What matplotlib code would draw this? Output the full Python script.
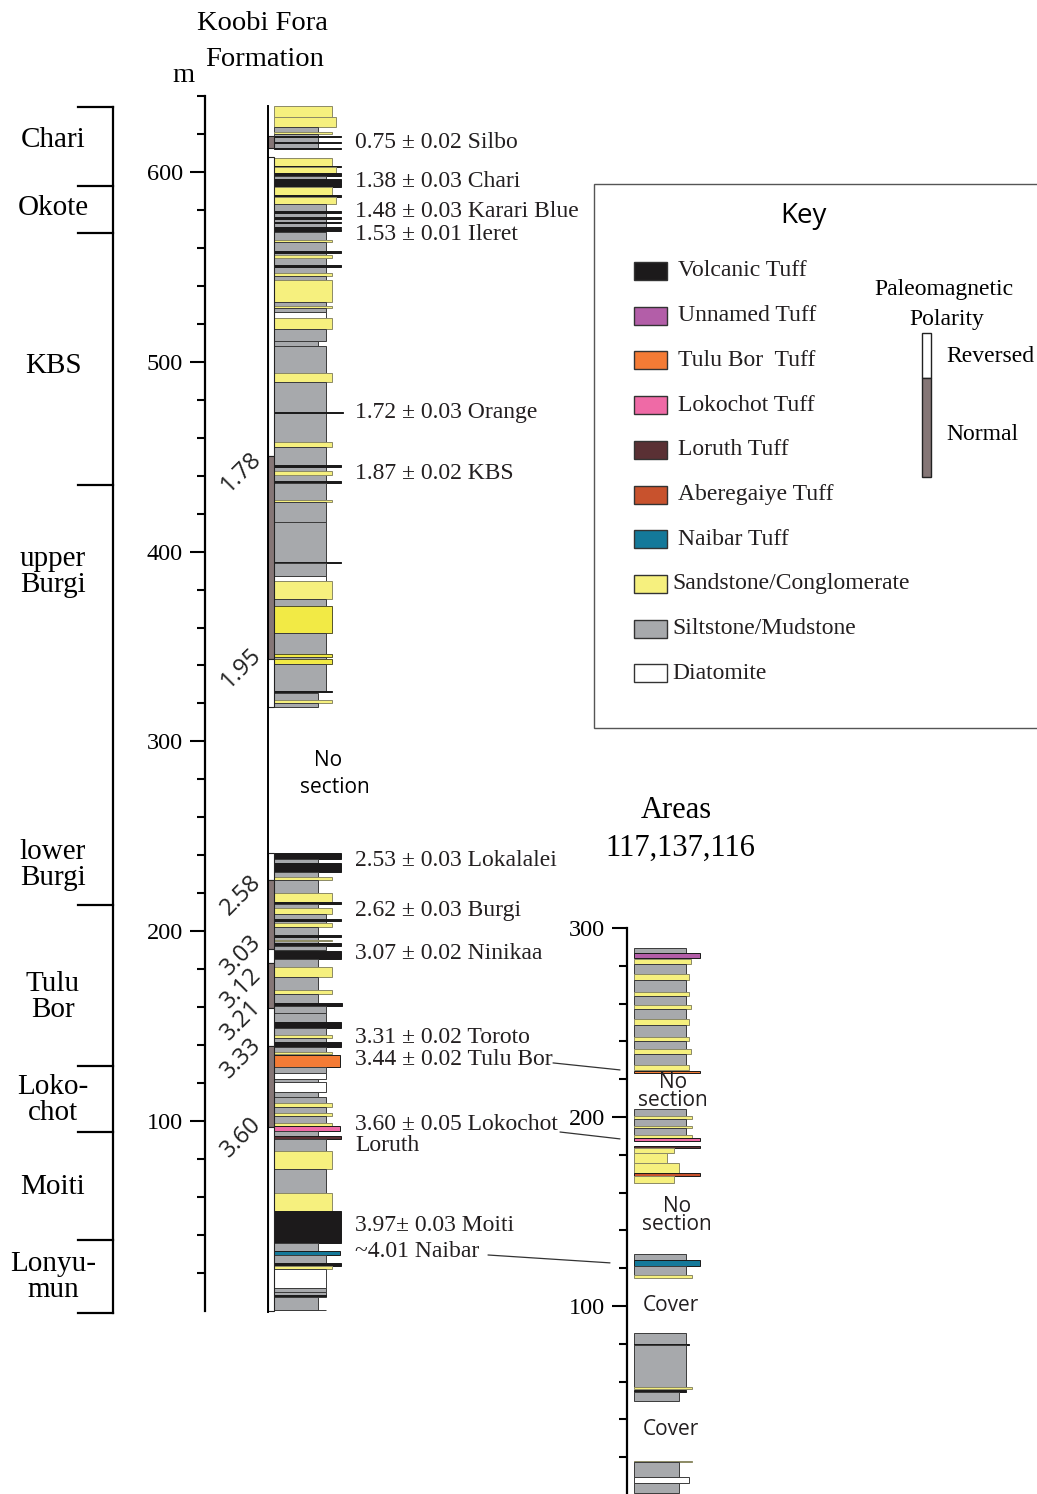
import matplotlib
matplotlib.use("Agg")
import matplotlib.pyplot as plt
from matplotlib.patches import Rectangle, ConnectionPatch
from matplotlib.ticker import FixedLocator

plt.rcParams['font.family'] = ['Liberation Serif', 'DejaVu Serif']
SANS = ['Open Sans', 'DejaVu Sans']

# ---------------------------------------------------------------- data
# Koobi Fora Formation composite section: (top m, base m, lithology, bed width)
main_beds = [
    (634.8, 628.8, 'S', 58), (628.8, 623.5, 'S', 62), (623.5, 621.2, 'M', 44),
    (621.2, 619.8, 'S', 58), (619.8, 612.5, 'M', 44),
    (619.0, 618.2, 'T', 67), (616.0, 615.2, 'T', 67), (612.9, 612.1, 'T', 67),
    (607.5, 603.1, 'S', 58), (603.3, 602.5, 'T', 67), (602.6, 599.6, 'S', 62),
    (599.6, 597.9, 'T', 67), (597.9, 596.1, 'M', 52), (596.1, 592.2, 'T', 67),
    (592.2, 588.0, 'S', 58), (588.0, 586.6, 'T', 67), (586.6, 583.1, 'S', 62),
    (583.1, 568.5, 'M', 52),
    (579.6, 578.5, 'T', 67), (576.1, 575.0, 'T', 67), (573.8, 572.9, 'T', 67),
    (571.2, 570.3, 'T', 67), (569.8, 568.8, 'T', 67),
    (568.5, 564.1, 'M', 52), (564.1, 563.1, 'S', 58), (563.1, 546.6, 'M', 52),
    (558.3, 557.1, 'T', 67), (556.2, 554.5, 'S', 58), (551.0, 549.8, 'T', 67),
    (546.6, 545.3, 'S', 58), (545.3, 543.1, 'M', 52), (543.1, 531.3, 'S', 58),
    (531.3, 529.5, 'M', 52), (529.5, 528.3, 'S', 58), (528.3, 526.0, 'M', 52),
    (526.0, 522.9, 'D', 52), (522.9, 517.1, 'S', 58), (517.1, 511.1, 'M', 52),
    (511.1, 508.3, 'M', 44), (508.3, 494.2, 'M', 52), (494.2, 489.2, 'S', 58),
    (489.2, 457.9, 'M', 52), (473.4, 472.8, 'T', 69),
    (457.9, 454.9, 'S', 58), (454.9, 436.0, 'M', 52),
    (445.6, 444.4, 'T', 67), (442.4, 440.2, 'S', 58), (437.2, 436.0, 'T', 67),
    (436.0, 427.2, 'M', 52), (427.2, 426.0, 'S', 58), (426.0, 415.7, 'M', 52),
    (415.7, 394.1, 'M', 52), (394.5, 393.9, 'T', 67), (394.1, 387.1, 'M', 52),
    (387.1, 384.6, 'D', 52), (384.6, 374.8, 'S', 58), (374.8, 371.5, 'M', 52),
    (371.5, 356.9, 'S2', 58), (356.9, 345.9, 'M', 52), (345.9, 344.6, 'S2', 58),
    (344.6, 343.5, 'M', 52), (343.5, 340.6, 'S2', 58), (340.6, 326.7, 'M', 52),
    (326.5, 326.0, 'T', 58), (325.6, 321.8, 'M', 44), (321.8, 320.0, 'S', 58),
    (320.0, 317.9, 'M', 44),
    # lower part
    (241.0, 237.8, 'T', 67), (237.8, 236.1, 'M', 44), (236.1, 231.3, 'T', 67),
    (231.3, 228.4, 'M', 44), (228.4, 226.9, 'S', 58), (226.9, 219.9, 'M', 44),
    (219.9, 215.5, 'S', 58), (215.5, 214.1, 'T', 67), (214.1, 212.0, 'M', 44),
    (212.0, 209.0, 'S', 58), (209.0, 204.1, 'M', 52), (206.2, 205.3, 'T', 67),
    (204.1, 202.0, 'S', 58), (202.0, 190.0, 'M', 44),
    (197.9, 196.7, 'T', 67), (195.5, 194.9, 'S', 58), (193.6, 192.1, 'T', 67),
    (192.0, 190.0, 'M', 52),
    (189.5, 185.1, 'T', 67), (185.1, 181.2, 'M', 44), (181.2, 176.0, 'S', 58),
    (176.0, 169.0, 'M', 44), (169.0, 166.9, 'S', 58), (166.9, 162.0, 'M', 44),
    (162.0, 160.5, 'T', 68), (160.5, 157.0, 'M', 52), (157.0, 152.3, 'M', 52),
    (152.3, 148.8, 'T', 67), (148.8, 145.3, 'M', 52), (145.3, 143.8, 'S', 58),
    (143.8, 141.4, 'M', 52), (141.4, 139.1, 'T', 67), (139.1, 136.5, 'M', 52),
    (136.5, 135.1, 'S', 58), (134.7, 128.6, 'TB', 66), (128.6, 125.4, 'M', 52),
    (125.4, 121.9, 'D', 52), (121.9, 120.7, 'M', 44), (120.7, 115.4, 'D', 52),
    (115.4, 112.8, 'M', 44), (112.8, 109.3, 'M', 52), (109.3, 107.5, 'S', 58),
    (107.5, 104.3, 'M', 52), (104.3, 102.6, 'S', 58), (102.6, 99.1, 'M', 52),
    (99.1, 97.3, 'S', 58), (97.3, 94.8, 'LK', 66), (94.8, 92.2, 'M', 44),
    (92.2, 90.6, 'LR', 67), (90.6, 84.1, 'M', 52), (84.1, 74.6, 'S', 58),
    (74.6, 61.9, 'M', 52), (61.9, 52.5, 'S', 58), (52.5, 35.5, 'T', 67),
    (35.5, 31.6, 'M', 44), (31.6, 29.5, 'NB', 66), (29.5, 25.3, 'M', 52),
    (25.3, 23.6, 'T', 67), (23.6, 22.0, 'S', 58), (22.0, 11.8, 'D', 52),
    (11.8, 9.7, 'M', 52), (9.7, 7.4, 'M', 52), (8.4, 7.6, 'T', 52),
    (7.4, 0.6, 'M', 44), (0.6, 0.2, 'M', 52),
]

# palaeomagnetic polarity of main section: (top m, base m, N/R)
main_polarity = [
    (618.9, 612.6, 'N'), (607.9, 450.3, 'R'), (450.3, 343.4, 'N'), (343.4, 318.1, 'R'),
    (241.2, 226.9, 'R'), (226.9, 190.6, 'N'), (190.6, 183.2, 'R'), (183.2, 159.5, 'N'),
    (159.5, 139.5, 'R'), (139.5, 96.8, 'N'), (96.8, 0.0, 'R'),
]
polarity_ages = ['1.78', '1.95', '2.58', '3.03', '3.12', '3.21', '3.33', '3.60']
polarity_age_depths = [442.0, 338.6, 219.0, 187.4, 170.0, 153.0, 133.0, 91.5]

tuff_labels = ['0.75 ± 0.02 Silbo', '1.38 ± 0.03 Chari', '1.48 ± 0.03 Karari Blue',
               '1.53 ± 0.01 Ileret', '1.72 ± 0.03 Orange', '1.87 ± 0.02 KBS',
               '2.53 ± 0.03 Lokalalei', '2.62 ± 0.03 Burgi', '3.07 ± 0.02 Ninikaa',
               '3.31 ± 0.02 Toroto', '3.44 ± 0.02 Tulu Bor', '3.60 ± 0.05 Lokochot',
               'Loruth', '3.97± 0.03 Moiti', '~4.01 Naibar']
tuff_label_depths = [615.8, 595.2, 579.4, 567.3, 473.5, 441.4, 237.5, 211.1, 188.5,
                     144.2, 132.6, 97.9, 87.3, 45.1, 31.0]

members = ['Chari', 'Okote', 'KBS', 'upper\nBurgi', 'lower\nBurgi', 'Tulu\nBor',
           'Loko-\nchot', 'Moiti', 'Lonyu-\nmun']
member_label_depths = [616.8, 581.0, 497.7, 389.2, 234.8, 165.3, 111.0, 65.2, 17.7]
member_boundaries = [634.2, 592.6, 567.8, 435.0, 213.8, 128.9, 94.1, 37.3, -1.2]

# Areas 117, 137, 116 section: (top m, base m, lithology, bed width)
area_beds = [
    (289.6, 286.9, 'M', 52), (286.9, 284.0, 'U', 66), (283.4, 280.9, 'S', 57),
    (280.9, 275.7, 'M', 52), (275.7, 272.5, 'S', 55), (272.5, 266.3, 'M', 52),
    (266.3, 264.0, 'S', 55), (264.0, 259.3, 'M', 52), (259.3, 257.0, 'S', 57),
    (257.0, 251.7, 'M', 52), (251.7, 248.7, 'S', 55), (248.7, 242.5, 'M', 52),
    (242.5, 240.2, 'S', 55), (240.2, 235.8, 'M', 52), (235.8, 233.3, 'S', 57),
    (233.3, 227.7, 'M', 52), (227.7, 224.9, 'S', 55), (224.5, 223.1, 'TB', 66),
    (204.2, 200.5, 'M', 52), (200.5, 199.1, 'S', 58), (199.1, 195.4, 'M', 52),
    (195.4, 194.0, 'S', 58), (194.0, 190.5, 'M', 52), (190.5, 188.7, 'S', 58),
    (188.7, 187.5, 'LK', 66),
    (184.6, 183.4, 'LR', 66), (183.4, 180.8, 'S', 40), (180.8, 175.5, 'S', 33),
    (175.5, 170.5, 'S', 45), (170.5, 168.8, 'AB', 66), (168.8, 165.2, 'S', 40),
    (127.4, 124.3, 'M', 52), (124.3, 121.2, 'NB', 66), (121.2, 116.4, 'M', 52),
    (116.4, 114.7, 'S', 58),
    (85.5, 79.5, 'M', 52), (79.9, 79.1, 'T', 55), (79.1, 57.3, 'M', 52),
    (57.3, 55.9, 'S', 58), (55.6, 54.6, 'T', 52), (54.5, 49.7, 'M', 45),
    (18.1, 17.3, 'S', 58), (17.3, 9.7, 'M', 45), (9.7, 6.2, 'D', 55),
    (6.2, 0.9, 'M', 45),
]
area_gap_labels = ['No\nsection', 'No\nsection', 'Cover', 'Cover']
area_gap_depths = [213.5, 147.9, 100.0, 34.4]

# tie lines: (depth in main section, depth in area section)
correlations = [(130.6, 224.9), (94.2, 188.4), (29.4, 122.8)]

legend_labels = ['Volcanic Tuff', 'Unnamed Tuff', 'Tulu Bor  Tuff', 'Lokochot Tuff',
                 'Loruth Tuff', 'Aberegaiye Tuff', 'Naibar Tuff',
                 'Sandstone/Conglomerate', 'Siltstone/Mudstone', 'Diatomite']
legend_keys = ['T', 'U', 'TB', 'LK', 'LR', 'AB', 'NB', 'S', 'M', 'D']

# ---------------------------------------------------------------- style
FILL = {'M': '#a7a9ac', 'S': '#f6f07e', 'S2': '#f2ea45', 'D': '#ffffff',
        'T': '#1c1a1b', 'U': '#b35ea8', 'TB': '#f47b35', 'LK': '#ef6aa6',
        'LR': '#5a3034', 'AB': '#c8522d', 'NB': '#14799a'}
EDGE = {'M': '#3b3b3b', 'S': '#8c8a66', 'S2': '#55532a', 'D': '#3b3b3b'}
NORMAL_C = '#857676'

W, H = 1037, 1494
fig = plt.figure(figsize=(W / 100, H / 100), dpi=100)

# overlay axes in pixel units for layout items
axo = fig.add_axes([0, 0, 1, 1])
axo.set_xlim(0, W)
axo.set_ylim(H, 0)
axo.axis('off')

# main column axes: 0 m at y=1310.8 px, 640 m at y=96.1 px
ax1 = fig.add_axes([205 / W, (H - 1310.8) / H, (W - 205) / W, (1310.8 - 96.1) / H])
ax1.set_xlim(205, W)
ax1.set_ylim(0, 640)

# area column axes: 0.5 m at bottom edge, 300 m at y=928 px
ax2 = fig.add_axes([627 / W, 0, (W - 627) / W, (H - 928) / H])
ax2.set_xlim(627, W)
ax2.set_ylim(0.5, 300)

for ax in (ax1, ax2):
    ax.patch.set_visible(False)
    for s in ('top', 'right', 'bottom'):
        ax.spines[s].set_visible(False)
    ax.spines['left'].set_linewidth(1.6)
    ax.set_xticks([])
    ax.tick_params(axis='y', which='major', length=11, width=1.5, pad=5, labelsize=17.5)
    ax.tick_params(axis='y', which='minor', length=6, width=1.5)

ax1.yaxis.set_major_locator(FixedLocator([100, 200, 300, 400, 500, 600]))
ax1.yaxis.set_minor_locator(FixedLocator([v for v in range(20, 641, 20) if v % 100]))
ax2.yaxis.set_major_locator(FixedLocator([100, 200, 300]))
ax2.yaxis.set_minor_locator(FixedLocator([v for v in range(20, 300, 20) if v % 100]))


def draw_beds(ax, beds, x0):
    for top, base, lith, w in beds:
        ax.add_patch(Rectangle((x0, base), w, top - base, facecolor=FILL[lith],
                               edgecolor=EDGE.get(lith, '#1a1a1a'), lw=0.7,
                               clip_on=False, zorder=3))


draw_beds(ax1, main_beds, 274.3)
draw_beds(ax2, area_beds, 633.7)

# polarity strip
ax1.plot([268, 268], [635, -0.8], color='k', lw=1.4, clip_on=False, zorder=4)
for top, base, pol in main_polarity:
    ax1.add_patch(Rectangle((268, base), 6, top - base,
                            facecolor=NORMAL_C if pol == 'N' else 'white',
                            edgecolor='#222222', lw=0.8, clip_on=False, zorder=3))
for lab, d in zip(polarity_ages, polarity_age_depths):
    ax1.text(241, d, lab, rotation=45, ha='center', va='center', fontsize=17,
             family=SANS, color='#222222', clip_on=False)

# tuff labels
for lab, d in zip(tuff_labels, tuff_label_depths):
    ax1.text(355, d, lab, ha='left', va='center', fontsize=17, color='#231f20')

ax1.text(328, 290.2, 'No', ha='center', va='center', fontsize=15, family=SANS)
ax1.text(335, 275.5, 'section', ha='center', va='center', fontsize=15, family=SANS)

# member brackets
ax1.plot([113, 113], [member_boundaries[0], member_boundaries[-1]], color='k',
         lw=1.6, clip_on=False)
for b in member_boundaries:
    ax1.plot([78, 113], [b, b], color='k', lw=1.6, clip_on=False)
for lab, d in zip(members, member_label_depths):
    ax1.text(53, d, lab, ha='center', va='center', fontsize=21, linespacing=1.0,
             clip_on=False)

# area column labels
for lab, d, x in zip(area_gap_labels, area_gap_depths, [673, 677, 671, 671]):
    ax2.text(x, d, lab, ha='center', va='center', fontsize=15, family=SANS,
             color='#231f20', linespacing=0.8, multialignment='center')

# tie lines
for (d1, d2), xa, xb in zip(correlations, [553, 560, 488], [620, 620, 610]):
    con = ConnectionPatch(xyA=(xa, d1), coordsA=ax1.transData,
                          xyB=(xb, d2), coordsB=ax2.transData,
                          color='#333333', lw=0.9)
    fig.add_artist(con)

# titles
axo.text(262, 24, 'Koobi Fora', ha='center', va='center', fontsize=20.5)
axo.text(265, 59, 'Formation', ha='center', va='center', fontsize=20.5)
axo.text(183, 75, 'm', ha='center', va='center', fontsize=20.5)
axo.text(676, 810, 'Areas', ha='center', va='center', fontsize=22)
axo.text(680, 848, '117,137,116', ha='center', va='center', fontsize=22)

# key
axo.add_patch(Rectangle((594, 184), 480, 544, facecolor='white', edgecolor='#555555',
                        lw=1.0, clip_on=False, zorder=1))
axo.text(803, 216, 'Key', ha='center', va='center', fontsize=20, family=SANS, zorder=2)
for i, (lab, key) in enumerate(zip(legend_labels, legend_keys)):
    yc = 271 + i * 44.7
    axo.add_patch(Rectangle((634, yc - 9), 33, 18, facecolor=FILL[key],
                            edgecolor='#333333', lw=1.0, zorder=2))
    axo.text(678 if i < 7 else 672, yc, lab, ha='left', va='center', fontsize=17,
             color='#231f20', zorder=2)
axo.text(944, 290, 'Paleomagnetic', ha='center', va='center', fontsize=17, zorder=2)
axo.text(947, 319, 'Polarity', ha='center', va='center', fontsize=17, zorder=2)
axo.add_patch(Rectangle((922, 333), 9, 45, facecolor='white', edgecolor='#222222',
                        lw=1.0, zorder=2))
axo.add_patch(Rectangle((922, 378), 9, 99, facecolor=NORMAL_C, edgecolor='#222222',
                        lw=1.0, zorder=2))
axo.text(946, 356, 'Reversed', ha='left', va='center', fontsize=17, zorder=2)
axo.text(946, 434, 'Normal', ha='left', va='center', fontsize=17, zorder=2)

fig.savefig('out.png', dpi=100)
